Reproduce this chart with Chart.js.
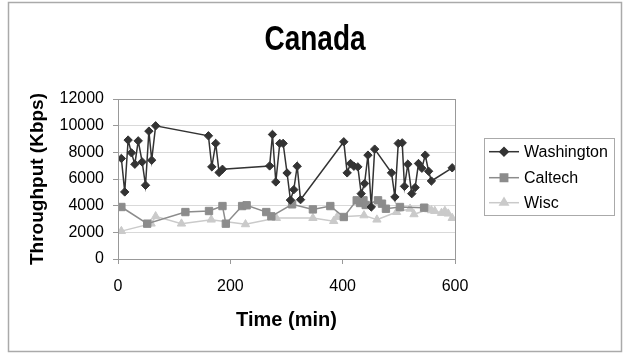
<!DOCTYPE html>
<html>
<head>
<meta charset="utf-8">
<script src="https://cdn.jsdelivr.net/npm/chart.js@4.4.1/dist/chart.umd.min.js"></script>
<style>
  body { margin: 0; background: #fff; }
  #wrap { width: 624px; height: 354px; position: relative; }
</style>
</head>
<body>
<div id="wrap"><canvas id="linechart"></canvas></div>
<script>
const chartTitle = 'Canada'

const washTime = [6,12,18,24,30,36,43,49,55,60,67,161,167,174,180,186,270,275,281,288,294,301,307,313,319,325,402,408,414,420,427,433,439,445,451,457,487,493,499,506,510,516,523,529,535,541,547,553,558,595]
const washVals = [7540,5030,8920,7960,7110,8860,7280,5530,9590,7410,9990,9240,6910,8670,6490,6730,6980,9340,5780,8670,8670,6450,4420,5200,6960,4450,8790,6460,7160,6960,6910,4900,5660,7790,3900,8240,6460,4650,8670,8710,5450,7110,4900,5360,7160,6810,7790,6580,5850,6840]

const calTime = [6,52,120,162,186,192,221,229,264,273,310,347,378,402,425,431,437,441,463,470,477,502,545]
const calVals = [3900,2650,3520,3600,3970,2650,3970,4030,3520,3200,4100,3720,3970,3150,4400,4200,4400,4050,4400,4150,3770,3900,3850]

const wiscTime = [6,59,67,113,166,227,282,347,384,390,438,461,496,520,527,553,558,564,576,582,588,595]
const wiscVals = [2090,2650,3200,2650,2950,2600,3070,3070,2840,3150,3270,2950,3520,3770,3350,3720,3650,3600,3450,3600,3400,3070]

const xTicks = [0, 200, 400, 600]
const yTicks = [0, 2000, 4000, 6000, 8000, 10000, 12000]

const FONT = '"Liberation Sans", Arial, sans-serif'

function toPoints(t, v) {
  return t.map((x, i) => ({ x: x, y: v[i] }))
}

const series = [
  { label: 'Washington', data: toPoints(washTime, washVals), color: '#333333', style: 'rectRot', r: 4.2 },
  { label: 'Caltech', data: toPoints(calTime, calVals), color: '#8c8c8c', style: 'rect', r: 5.2 },
  { label: 'Wisc', data: toPoints(wiscTime, wiscVals), color: '#cacaca', style: 'triangle', r: 4.8 }
]

// frame, title, plot border and legend box like the spreadsheet chart
const decor = {
  id: 'decor',
  afterDraw(chart) {
    const c = chart.ctx
    const a = chart.chartArea
    c.save()
    c.strokeStyle = '#aaaaaa'
    c.lineWidth = 1.5
    c.strokeRect(8.5, 2.5, 613, 349)
    c.strokeStyle = '#999999'
    c.lineWidth = 1
    c.strokeRect(Math.round(a.left) + 0.5, Math.round(a.top) + 0.5, Math.round(a.right - a.left), Math.round(a.bottom - a.top))

    // title, a bit taller than the plain font
    c.save()
    c.translate(315, 41)
    c.scale(1, 1.22)
    c.fillStyle = '#000'
    c.font = 'bold 28px ' + FONT
    c.textAlign = 'center'
    c.textBaseline = 'middle'
    c.fillText(chartTitle, 0, 0)
    c.restore()

    c.strokeStyle = '#aaaaaa'
    c.strokeRect(484.5, 138.5, 130, 77)
    const rows = [151.7, 177.7, 202.7]
    c.font = '16px ' + FONT
    c.textBaseline = 'middle'
    series.forEach((s, i) => {
      const y = rows[i]
      c.strokeStyle = s.color
      c.lineWidth = 1.5
      c.beginPath()
      c.moveTo(489, y)
      c.lineTo(519, y)
      c.stroke()
      c.fillStyle = s.color
      Chart.helpers.drawPoint(c, { pointStyle: s.style, radius: s.r, borderWidth: 1 }, 504, y)
      c.fill()
      c.fillStyle = '#000'
      c.fillText(s.label, 524, y + 1)
    })
    c.restore()
  }
}

new Chart(document.getElementById('linechart'), {
  type: 'scatter',
  data: {
    datasets: series.map(s => ({
      label: s.label,
      data: s.data,
      showLine: true,
      borderColor: s.color,
      backgroundColor: s.color,
      borderWidth: 1.5,
      pointStyle: s.style,
      pointRadius: s.r,
      pointBorderWidth: 1,
      pointBorderColor: s.color,
      pointBackgroundColor: s.color
    }))
  },
  options: {
    responsive: true,
    maintainAspectRatio: false,
    animation: false,
    layout: { padding: { left: 10, right: 169, top: 99, bottom: 10 } },
    plugins: {
      legend: { display: false },
      tooltip: { enabled: false },
      title: { display: false }
    },
    scales: {
      x: {
        type: 'linear',
        min: 0,
        max: 600,
        afterBuildTicks: s => { s.ticks = xTicks.map(v => ({ value: v })) },
        afterFit: s => { s.height = 85 },
        grid: { drawOnChartArea: false, tickLength: 5, color: '#999999' },
        border: { color: '#999999' },
        ticks: { color: '#000', padding: 13, font: { family: FONT, size: 16 }, callback: v => String(v) },
        title: {
          display: true,
          text: 'Time (min)',
          color: '#000',
          font: { family: FONT, size: 20, weight: 'bold' },
          padding: { top: 0, bottom: 12 }
        }
      },
      y: {
        min: 0,
        max: 12000,
        afterBuildTicks: s => { s.ticks = yTicks.map(v => ({ value: v })) },
        afterFit: s => { s.width = 108 },
        grid: { color: '#d9d9d9', tickColor: '#999999', tickLength: 5 },
        border: { color: '#999999' },
        ticks: { color: '#000', padding: 9, font: { family: FONT, size: 16 }, callback: v => String(v) },
        title: {
          display: true,
          text: 'Throughput (Kbps)',
          color: '#000',
          font: { family: FONT, size: 19, weight: 'bold' },
          padding: { top: 16, bottom: 0 }
        }
      }
    }
  },
  plugins: [decor]
});
</script>
</body>
</html>
